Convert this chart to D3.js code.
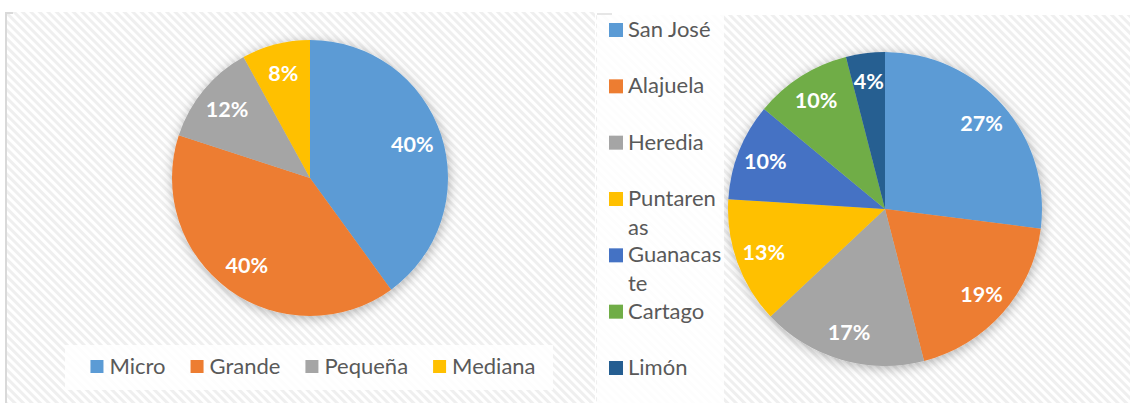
<!DOCTYPE html>
<meta charset="utf-8">
<style type="text/css">
body { margin: 0; background: #fff; }
svg { display: block; font-family: Lato, "Open Sans", sans-serif; }
.legend text { fill: #595959; font-size: 22px; }
.label { fill: #fff; font-weight: bold; font-size: 21.5px; }
</style>
<body>
<script src="https://d3js.org/d3.v7.min.js"></script>
<script>
// left chart: company size
var sizeNames = ["Micro", "Grande", "Pequeña", "Mediana"];
var sizeValues = [40, 40, 12, 8];
var sizeColors = ["#5B9BD5", "#ED7D31", "#A5A5A5", "#FFC000"];

// right chart: province
var provNames = ["San José", "Alajuela", "Heredia", "Puntarenas", "Guanacaste", "Cartago", "Limón"];
var provValues = [27, 19, 17, 13, 10, 10, 4];
var provColors = ["#5B9BD5", "#ED7D31", "#A5A5A5", "#FFC000", "#4472C4", "#70AD47", "#255E91"];

var W = 1130, H = 403;
var svg = d3.select("body").append("svg").attr("width", W).attr("height", H);
var defs = svg.append("defs");

// diagonal hatch like the excel background
var pat = defs.append("pattern").attr("id", "hatch")
    .attr("patternUnits", "userSpaceOnUse")
    .attr("width", 6).attr("height", 6)
    .attr("patternTransform", "rotate(-45)");
pat.append("rect").attr("width", 6).attr("height", 6).attr("fill", "#fff");
pat.append("rect").attr("width", 3).attr("height", 6).attr("fill", "#efefef");

var f = defs.append("filter").attr("id", "shadow")
    .attr("x", "-20%").attr("y", "-20%").attr("width", "140%").attr("height", "140%");
f.append("feDropShadow").attr("dx", 1).attr("dy", 2).attr("stdDeviation", 6)
    .attr("flood-color", "#000").attr("flood-opacity", 0.3);

function pieChart(opt) {
  var g = svg.append("g");
  g.append("rect").attr("x", opt.x).attr("y", opt.y).attr("width", opt.w).attr("height", opt.h)
    .attr("fill", "url(#hatch)");

  var pie = d3.pie().sort(null).value(function(d) { return d; });
  var arcs = pie(opt.values);
  var arc = d3.arc().innerRadius(0).outerRadius(opt.r);
  var labelArc = d3.arc().innerRadius(opt.r * opt.lf).outerRadius(opt.r * opt.lf);

  var p = g.append("g").attr("transform", "translate(" + opt.cx + "," + opt.cy + ")");
  p.append("g").attr("filter", "url(#shadow)")
    .selectAll("path").data(arcs).join("path")
    .attr("d", arc)
    .attr("fill", function(d, i) { return opt.colors[i]; });

  p.selectAll("text").data(arcs).join("text")
    .attr("class", "label")
    .attr("transform", function(d) { return "translate(" + labelArc.centroid(d) + ")"; })
    .attr("text-anchor", "middle")
    .attr("dy", "0.35em")
    .text(function(d) { return d.data + "%"; });
  return g;
}

// left chart
var left = pieChart({x: 5, y: 12, w: 590, h: 391, cx: 310, cy: 178, r: 138, lf: 0.78,
  values: sizeValues, colors: sizeColors});
left.append("rect").attr("x", 5).attr("y", 12).attr("width", 2).attr("height", 391).attr("fill", "#d9d9d9");
left.append("rect").attr("x", 5).attr("y", 12).attr("width", 8).attr("height", 2).attr("fill", "#d9d9d9");

// bottom legend
var lg = left.append("g").attr("class", "legend");
lg.append("rect").attr("x", 65).attr("y", 345).attr("width", 488).attr("height", 45)
  .attr("fill", "#fff").attr("fill-opacity", 0.85);
var items = lg.selectAll("g").data(sizeNames).join("g");
items.append("rect").attr("width", 13).attr("height", 13).attr("y", -14)
  .attr("fill", function(d, i) { return sizeColors[i]; });
items.append("text").attr("x", 19).text(function(d) { return d; });
var widths = [];
items.each(function() { widths.push(19 + d3.select(this).select("text").node().getComputedTextLength()); });
var gap = 25;
var total = d3.sum(widths) + gap * (widths.length - 1);
var xPos = 313 - total / 2;
items.attr("transform", function(d, i) {
  var t = "translate(" + xPos + ",374)";
  xPos += widths[i] + gap;
  return t;
});

// right chart
var right = pieChart({x: 596, y: 15, w: 534, h: 388, cx: 885, cy: 209, r: 157, lf: 0.82,
  values: provValues, colors: provColors});
right.append("rect").attr("x", 597).attr("y", 15).attr("width", 127).attr("height", 388)
  .attr("fill", "#fff").attr("fill-opacity", 0.85);
right.append("rect").attr("x", 597).attr("y", 13).attr("width", 15).attr("height", 2).attr("fill", "#e6e6e6");

var rg = right.append("g").attr("class", "legend");
var yLeg = d3.scalePoint().domain(provNames).range([30, 368]);
var ritems = rg.selectAll("g").data(provNames).join("g")
  .attr("transform", function(d) { return "translate(609," + yLeg(d) + ")"; });
ritems.append("rect").attr("y", -7).attr("width", 14).attr("height", 14)
  .attr("fill", function(d, i) { return provColors[i]; });

// wrap label by characters when too wide
var maxW = 95;
ritems.each(function(d) {
  var t = d3.select(this).append("text").attr("x", 19).attr("y", 7);
  var lines = [], cur = "";
  for (var k = 0; k < d.length; k++) {
    t.text(cur + d[k]);
    if (t.node().getComputedTextLength() > maxW && cur.length) { lines.push(cur); cur = d[k]; }
    else cur += d[k];
  }
  lines.push(cur);
  t.text(null);
  lines.forEach(function(s, j) {
    t.append("tspan").attr("x", 19).attr("y", 7 + j * 29).text(s);
  });
});
</script>
</body>
